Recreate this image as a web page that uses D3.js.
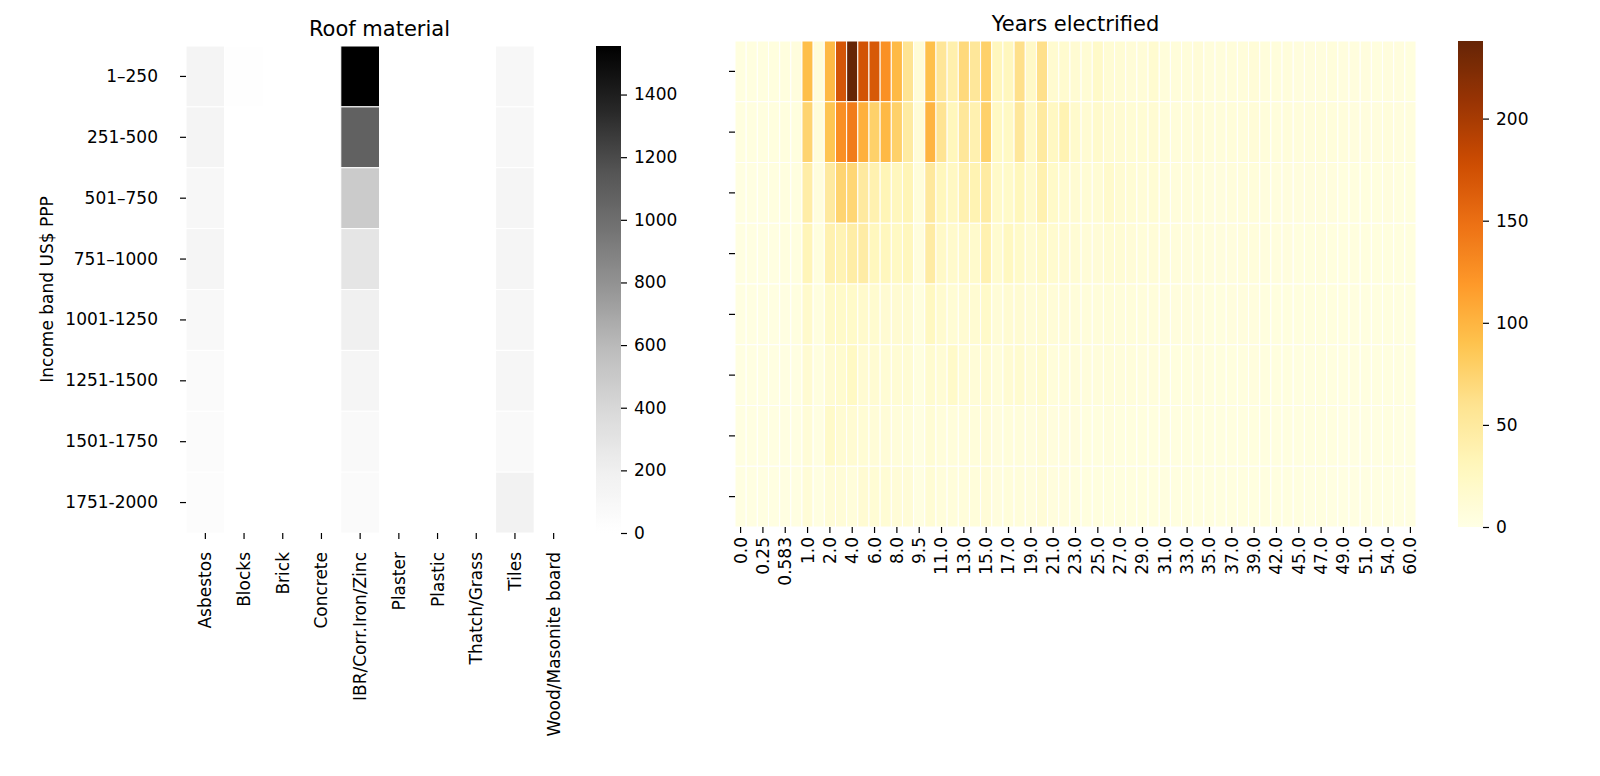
<!DOCTYPE html>
<html>
<head>
<meta charset="utf-8">
<script src="https://cdn.jsdelivr.net/npm/d3@7"></script>
<style>
  body { margin: 0; background: #fff; }
  svg text { font-family: "DejaVu Sans", sans-serif; fill: #000; }
</style>
</head>
<body>
<script>
// income bands (rows of both heatmaps)
var incomeBands = ["1–250", "251-500", "501–750", "751–1000", "1001-1250", "1251-1500", "1501-1750", "1751-2000"];

// roof material counts per income band
var roofMaterials = ["Asbestos", "Blocks", "Brick", "Concrete", "IBR/Corr.Iron/Zinc", "Plaster", "Plastic", "Thatch/Grass", "Tiles", "Wood/Masonite board"];
var asbestos = [140, 140, 110, 125, 85, 60, 50, 45];
var blocks   = [14, 2, 1, 1, 1, 0, 0, 0];
var brick    = [1, 1, 0, 0, 0, 0, 0, 0];
var concrete = [1, 1, 1, 0, 0, 0, 0, 0];
var ibr      = [1555, 1080, 486, 288, 198, 135, 80, 60];
var plaster  = [0, 0, 0, 0, 0, 0, 0, 0];
var plastic  = [0, 0, 0, 0, 0, 0, 0, 0];
var thatch   = [1, 0, 0, 0, 0, 0, 0, 0];
var tiles    = [105, 105, 130, 125, 115, 120, 80, 165];
var wood     = [0, 0, 0, 0, 0, 0, 0, 0];
var roofTicks = [0, 200, 400, 600, 800, 1000, 1200, 1400];

// years electrified: column labels and one array per income band
var yearCols = ["0.0","0.083","0.25","0.5","0.583","0.75","1.0","1.5","2.0","3.0","4.0","5.0","6.0","7.0","8.0","9.0","9.5","10.0",
  "11.0","12.0","13.0","14.0","15.0","16.0","17.0","18.0","19.0","20.0","21.0","22.0","23.0","24.0","25.0","26.0","27.0","28.0",
  "29.0","30.0","31.0","32.0","33.0","34.0","35.0","36.0","37.0","38.0","39.0","40.0","42.0","44.0","45.0","46.0","47.0","48.0",
  "49.0","50.0","51.0","53.0","54.0","55.0","60.0"];
var years1 = [4,4,4,5,5,6, 93,8,97,171,238,173,168,125,96,58,10,92,55,40,69,53,77,28,28,62,22,62,15, 16,14,12,20,12,12,10,10,15, 8,8,8,10,7,7,8,8,10,7,7,7,6,6,6,7,6,6,6,5,6,6,5];
var years2 = [4,4,4,5,5,5, 74,8,88,126,140,103,77,97,77,48,10,100,58,30,53,38,77,24,24,53,22,49,25, 36,18,14,18,14,14,12,12,14, 9,8,8,10,8,8,9,8,10,8,7,8,7,7,8,7,7,6,6,6,7,6,6];
var years3 = [3,3,3,4,4,4, 44,6,50,74,72,50,38,33,28,33,8,52,30,25,38,36,48,20,20,30,18,38,20, 16,14,12,12,18,14,12,10,12, 8,7,7,8,6,6,7,7,8,6,6,6,6,6,6,6,5,5,5,5,6,5,5];
var years4 = [3,3,3,3,4,4, 32,5,38,35,45,46,28,28,24,28,6,47,22,18,22,18,38,15,26,20,14,22,16, 14,12,10,10,12,12,10,9,10, 7,7,6,7,6,6,6,7,7,6,6,6,5,5,6,5,5,5,5,5,5,5,5];
var years5 = [3,3,3,3,3,4, 18,4,20,20,20,18,16,14,14,14,5,26,16,12,14,14,20,10,14,14,10,14,10, 10,9,8,8,9,8,8,7,8, 6,6,6,6,5,5,6,6,6,5,5,5,5,5,5,5,5,4,4,4,5,4,4];
var years6 = [3,3,3,3,3,3, 14,4,14,16,24,14,14,12,12,12,4,16,12,20,12,10,14,8,14,16,10,16,8, 8,8,7,7,8,7,7,6,7, 5,5,5,6,5,5,5,5,6,5,5,5,4,4,5,4,4,4,4,4,4,4,4];
var years7 = [3,3,3,3,3,3, 10,3,20,14,14,12,10,10,8,8,3,12,8,8,8,8,10,6,8,8,6,10,6, 6,6,5,5,6,5,5,5,5, 4,4,4,5,4,4,4,4,5,4,4,4,4,4,4,4,3,3,3,3,4,3,3];
var years8 = [3,3,3,3,3,3, 10,3,10,10,8,14,12,12,10,10,3,12,8,8,8,8,10,6,8,8,6,10,6, 6,5,5,5,5,5,5,5,5, 4,4,4,4,4,4,4,4,4,4,4,4,4,3,4,3,3,3,3,3,3,3,3];
var yearTicks = [0, 50, 100, 150, 200];

var FONT = 17;

var svg = d3.select("body").append("svg")
  .attr("width", 1600)
  .attr("height", 776);

// matplotlib style: piecewise linear through the 9 brewer colours
function brewerScale(scheme, max) {
  return d3.scaleLinear()
    .domain(d3.range(9).map(function(i) { return i / 8 * max; }))
    .range(scheme[9])
    .clamp(true);
}

function styleAxis(g) {
  g.select(".domain").remove();
  g.selectAll(".tick line").attr("stroke", "#000").attr("stroke-width", 1.2);
  g.selectAll(".tick text").attr("font-size", FONT).attr("font-family", "DejaVu Sans");
}

function rotateLabels(g, off) {
  g.selectAll(".tick text")
    .attr("transform", "rotate(-90)")
    .attr("x", -off)
    .attr("y", 0)
    .attr("dy", "0.35em")
    .attr("text-anchor", "end");
}

function colorbar(id, x, y0, y1, max, color, ticks) {
  var w = 25;
  var grad = svg.append("defs").append("linearGradient")
    .attr("id", id)
    .attr("x1", 0).attr("y1", 1).attr("x2", 0).attr("y2", 0);
  d3.range(0, 1.0001, 0.02).forEach(function(t) {
    grad.append("stop").attr("offset", t).attr("stop-color", color(t * max));
  });
  svg.append("rect")
    .attr("x", x).attr("y", y0)
    .attr("width", w).attr("height", y1 - y0)
    .attr("fill", "url(#" + id + ")");
  var s = d3.scaleLinear().domain([0, max]).range([y1, y0]);
  svg.append("g")
    .attr("transform", "translate(" + (x + w) + ",0)")
    .call(d3.axisRight(s).tickValues(ticks).tickSize(6).tickPadding(7).tickFormat(d3.format("d")))
    .call(styleAxis);
}

// ---------- Roof material ----------
var roofSeries = [asbestos, blocks, brick, concrete, ibr, plaster, plastic, thatch, tiles, wood];
var roofMax = d3.max(roofSeries, function(s) { return d3.max(s); });
var roofColor = brewerScale(d3.schemeGreys, roofMax);

var xL = d3.scaleBand().domain(roofMaterials).range([186, 573]);
var yL = d3.scaleBand().domain(incomeBands).range([46, 533]);

var roofCells = [];
roofMaterials.forEach(function(m, i) {
  incomeBands.forEach(function(b, j) {
    roofCells.push({m: m, b: b, v: roofSeries[i][j]});
  });
});

svg.append("g").selectAll("rect")
  .data(roofCells)
  .join("rect")
  .attr("x", function(d) { return xL(d.m); })
  .attr("y", function(d) { return yL(d.b); })
  .attr("width", xL.bandwidth())
  .attr("height", yL.bandwidth())
  .attr("fill", function(d) { return roofColor(d.v); })
  .attr("stroke", "#fff")
  .attr("stroke-width", 1);

svg.append("g")
  .attr("transform", "translate(186,0)")
  .call(d3.axisLeft(yL).tickSize(6).tickPadding(22))
  .call(styleAxis);

svg.append("g")
  .attr("transform", "translate(0,533)")
  .call(d3.axisBottom(xL).tickSize(6))
  .call(styleAxis)
  .call(function(g) { rotateLabels(g, 19); });

svg.append("text")
  .attr("x", 379.5).attr("y", 35.5)
  .attr("text-anchor", "middle")
  .attr("font-size", 21)
  .text("Roof material");

svg.append("text")
  .attr("transform", "translate(53,289.5) rotate(-90)")
  .attr("text-anchor", "middle")
  .attr("font-size", FONT)
  .text("Income band US$ PPP");

colorbar("greys", 596, 46, 533, roofMax, roofColor, roofTicks);

// ---------- Years electrified ----------
var yearSeries = [years1, years2, years3, years4, years5, years6, years7, years8];
var yearMax = d3.max(yearSeries, function(s) { return d3.max(s); });
var yearColor = brewerScale(d3.schemeYlOrBr, yearMax);

var xR = d3.scaleBand().domain(d3.range(yearCols.length)).range([735, 1416]);
var yR = d3.scaleBand().domain(incomeBands).range([41, 527]);

var yearCells = [];
yearSeries.forEach(function(s, j) {
  s.forEach(function(v, i) {
    yearCells.push({c: i, b: incomeBands[j], v: v});
  });
});

svg.append("g").selectAll("rect")
  .data(yearCells)
  .join("rect")
  .attr("x", function(d) { return xR(d.c); })
  .attr("y", function(d) { return yR(d.b); })
  .attr("width", xR.bandwidth())
  .attr("height", yR.bandwidth())
  .attr("fill", function(d) { return yearColor(d.v); })
  .attr("stroke", "#fff")
  .attr("stroke-width", 1);

svg.append("g")
  .attr("transform", "translate(735,0)")
  .call(d3.axisLeft(yR).tickSize(6).tickFormat(""))
  .call(styleAxis);

svg.append("g")
  .attr("transform", "translate(0,527)")
  .call(d3.axisBottom(xR)
    .tickValues(d3.range(0, yearCols.length, 2))
    .tickFormat(function(i) { return yearCols[i]; })
    .tickSize(6))
  .call(styleAxis)
  .call(function(g) { rotateLabels(g, 10); });

svg.append("text")
  .attr("x", 1075.5).attr("y", 30.5)
  .attr("text-anchor", "middle")
  .attr("font-size", 21)
  .text("Years electrified");

colorbar("ylorbr", 1458, 41, 527, yearMax, yearColor, yearTicks);
</script>
</body>
</html>
